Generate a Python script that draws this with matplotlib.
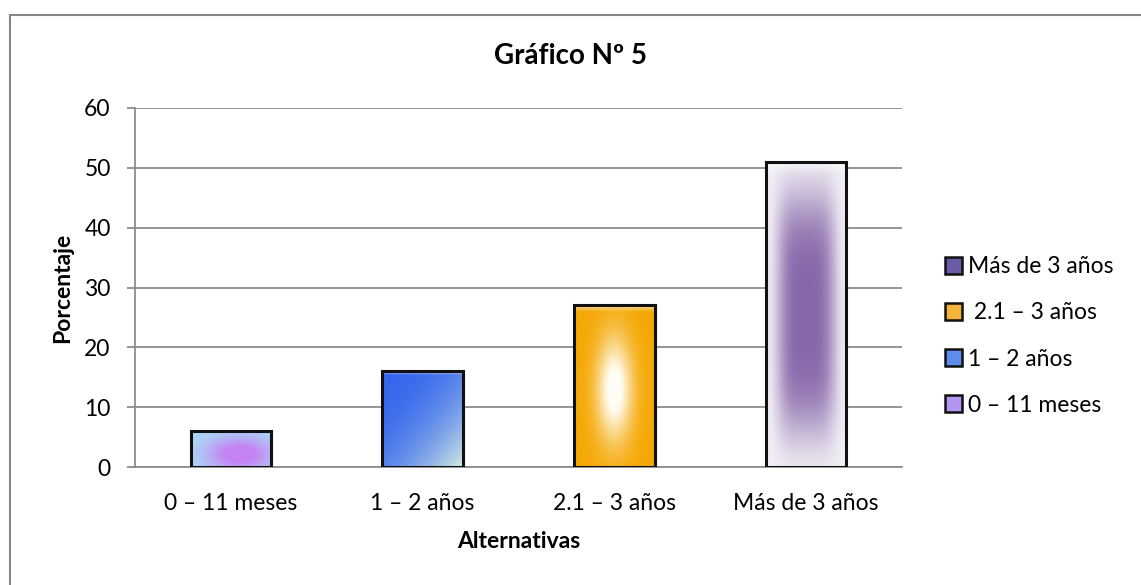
import numpy as np
import matplotlib.pyplot as plt
from matplotlib.patches import Patch, Rectangle

plt.rcParams['font.family'] = ['Lato', 'DejaVu Sans']

categories = ["0 – 11 meses", "1 – 2 años", "2.1 – 3 años", "Más de 3 años"]
values = [6, 16, 27, 51]
legend_labels = ["0 – 11 meses", "1 – 2 años", " 2.1 – 3 años", "Más de 3 años"]
legend_colors = ["#b494f2", "#5d8ced", "#f4b43a", "#6b5aa6"]


def hex_rgb(h):
    h = h.lstrip("#")
    return np.array([int(h[i:i + 2], 16) / 255 for i in (0, 2, 4)])


def mix(a, b, t):
    t = t[..., None]
    return a * (1 - t) + b * t


def gradient(kind, n=200):
    u = np.linspace(0, 1, n)
    X, Y = np.meshgrid(u, u)  # Y = 0 at top row
    if kind == 0:
        base = hex_rgb("#a8def6")
        vio = hex_rgb("#c583f3")
        w = np.exp(-(((X - 0.6) / 0.42) ** 2 + ((Y - 0.65) / 0.5) ** 2))
        img = mix(base, vio, np.clip(w * 1.2, 0, 1))
    elif kind == 1:
        t = np.clip((X + Y) / 2, 0, 1) ** 2.2
        img = mix(hex_rgb("#3566ee"), hex_rgb("#d4ece2"), t)
    elif kind == 2:
        w = np.exp(-(((X - 0.5) / 0.22) ** 2 + ((Y - 0.52) / 0.32) ** 2))
        img = mix(hex_rgb("#f5a804"), hex_rgb("#fffdf5"), np.clip(w * 1.15, 0, 1))
    else:
        hx = np.exp(-((X - 0.5) / 0.36) ** 4)
        vy = np.exp(-((Y - 0.5) / 0.4) ** 4)
        img = mix(hex_rgb("#f3f0f6"), hex_rgb("#8767a9"), hx * vy)
    # light bevel at the top
    top = np.clip(1 - Y / 0.04, 0, 1) * 0.6
    img = mix(img, np.ones(3), np.broadcast_to(top, X.shape))
    return img


fig = plt.figure(figsize=(11.41, 5.85), dpi=100)
ax = fig.add_axes([135 / 1141, 1 - 467 / 585, 767 / 1141, 359 / 585])

x = np.arange(len(categories))
bars = ax.bar(x, values, width=0.42, facecolor="none", edgecolor="#111111",
              linewidth=2.2, zorder=4)
for i, b in enumerate(bars):
    im = ax.imshow(gradient(i), extent=(b.get_x(), b.get_x() + b.get_width(), 0, b.get_height()),
                   aspect="auto", zorder=3, interpolation="bilinear")
    im.set_clip_path(b)

ax.set_xlim(-0.5, len(categories) - 0.5)
ax.set_ylim(0, 60)
ax.set_yticks(range(0, 61, 10))
ax.set_xticks(x)
ax.set_xticklabels(categories)
ax.grid(axis="y", color="#8c8c8c", linewidth=1.3, zorder=1)
ax.set_axisbelow(True)
for s in ("top", "right"):
    ax.spines[s].set_visible(False)
for s in ("left", "bottom"):
    ax.spines[s].set_color("#8c8c8c")
    ax.spines[s].set_linewidth(1.3)
ax.tick_params(axis="y", length=5.5, width=1.3, color="#8c8c8c", labelsize=16.5, pad=12)
ax.tick_params(axis="x", length=0, labelsize=16.5, pad=19)

ax.set_ylabel("Porcentaje", fontsize=16.5, fontweight="bold", labelpad=8)
ax.set_xlabel("Alternativas", fontsize=16.5, fontweight="bold", labelpad=12)

fig.text(570 / 1141, 1 - 56 / 585, "Gráfico Nº 5", fontsize=20, fontweight="bold",
         ha="center", va="center")

handles = [Patch(facecolor=c, edgecolor="#111111", linewidth=1.8) for c in legend_colors]
fig.legend(handles[::-1], legend_labels[::-1], loc="center left",
           bbox_to_anchor=(924 / 1141, 1 - 336 / 585), frameon=False, fontsize=16.5,
           handlelength=0.75, handleheight=0.75, handletextpad=0.25, labelspacing=1.1)

fig.patches.append(Rectangle((10 / 1141, -0.1), 1.2, 1 - 15 / 585 + 0.1,
                             transform=fig.transFigure, fill=False,
                             edgecolor="#868686", linewidth=1.5))

fig.savefig("out.png", dpi=100)
